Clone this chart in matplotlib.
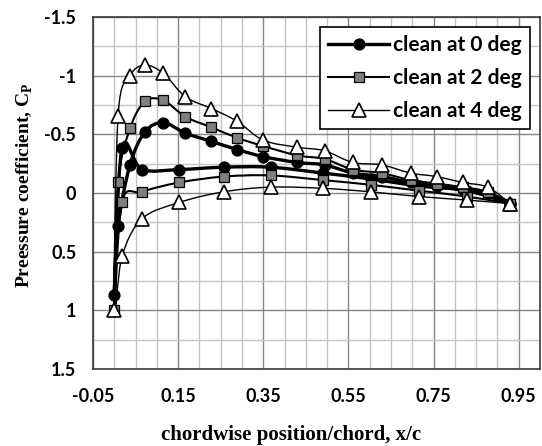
import numpy as np
import matplotlib
matplotlib.use("Agg")
import matplotlib.pyplot as plt
from matplotlib.path import Path
from matplotlib.patches import PathPatch
from matplotlib.lines import Line2D
from matplotlib.ticker import MultipleLocator

# tap positions (x/c), upper surface from leading edge to trailing edge
x_upper = [0.0, 0.009, 0.037, 0.072, 0.115, 0.167, 0.228, 0.289, 0.35, 0.43,
           0.494, 0.56, 0.628, 0.696, 0.757, 0.818, 0.877, 0.93]
# lower surface taps (leading edge shared with upper)
x_lower = [0.018, 0.065, 0.153, 0.257, 0.367, 0.49, 0.602, 0.715, 0.828, 0.93]

cp0_upper = [0.87, 0.28, -0.24, -0.52, -0.60, -0.51, -0.44, -0.37, -0.31, -0.26,
             -0.24, -0.17, -0.14, -0.09, -0.06, -0.03, 0.0, 0.09]
cp0_lower = [-0.38, -0.20, -0.20, -0.22, -0.22, -0.17, -0.12, -0.06, -0.02, 0.09]

cp2_upper = [1.0, -0.09, -0.55, -0.78, -0.79, -0.65, -0.56, -0.47, -0.40, -0.32,
             -0.29, -0.20, -0.17, -0.11, -0.08, -0.05, -0.01, 0.09]
cp2_lower = [0.08, -0.01, -0.09, -0.14, -0.15, -0.11, -0.07, -0.02, 0.03, 0.09]

cp4_upper = [1.0, -0.66, -1.0, -1.09, -1.02, -0.82, -0.72, -0.61, -0.45, -0.39,
             -0.36, -0.26, -0.24, -0.17, -0.14, -0.09, -0.05, 0.09]
cp4_lower = [0.54, 0.22, 0.08, -0.01, -0.05, -0.04, -0.01, 0.03, 0.06, 0.09]

labels = ["clean at 0 deg", "clean at 2 deg", "clean at 4 deg"]


def smooth_path(xs, ys):
    # excel style smoothed line: bezier segments with catmull-rom handles
    p = np.column_stack([xs, ys])
    n = len(p)
    verts = [p[0]]
    codes = [Path.MOVETO]
    for i in range(n - 1):
        p0 = p[i - 1] if i > 0 else p[i]
        p3 = p[i + 2] if i + 2 < n else p[i + 1]
        c1 = p[i] + (p[i + 1] - p0) / 6
        c2 = p[i + 1] - (p3 - p[i]) / 6
        verts += [c1, c2, p[i + 1]]
        codes += [Path.CURVE4] * 3
    return Path(verts, codes)


fig = plt.figure(figsize=(5.42, 4.46), dpi=100)
ax = fig.add_axes([0.1716, 0.1726, 0.9963 - 0.1716, 0.9619 - 0.1726])

styles = [
    dict(marker="o", ms=7.8, mfc="black", mec="black", mew=1.0, lw=2.4),
    dict(marker="s", ms=7.0, mfc="#808080", mec="black", mew=0.9, lw=1.5),
    dict(marker="^", ms=10, mfc="white", mec="black", mew=1.2, lw=1.0),
]
series = [(cp0_upper, cp0_lower), (cp2_upper, cp2_lower), (cp4_upper, cp4_lower)]

handles = []
for k, ((up, lo), st) in enumerate(zip(series, styles)):
    xs = x_upper[::-1] + x_lower
    ys = up[::-1] + lo
    ax.add_patch(PathPatch(smooth_path(xs, ys), fill=False, edgecolor="black",
                           lw=st["lw"], zorder=3 + 2 * k))
    ax.plot(xs, ys, linestyle="none", marker=st["marker"], ms=st["ms"],
            mfc=st["mfc"], mec=st["mec"], mew=st["mew"], zorder=4 + 2 * k)
    handles.append(Line2D([], [], color="black", lw=st["lw"], marker=st["marker"],
                          ms=st["ms"], mfc=st["mfc"], mec=st["mec"], mew=st["mew"]))

ax.set_xlim(-0.05, 1.0)
ax.set_ylim(1.5, -1.5)
ax.xaxis.set_minor_locator(MultipleLocator(0.05, offset=-0.05))
ax.yaxis.set_minor_locator(MultipleLocator(0.25))
ax.set_xticks([-0.05, 0.15, 0.35, 0.55, 0.75, 0.95])
ax.set_xticklabels(["-0.05", "0.15", "0.35", "0.55", "0.75", "0.95"])
ax.set_yticks([-1.5, -1, -0.5, 0, 0.5, 1, 1.5])
ax.set_yticklabels(["-1.5", "-1", "-0.5", "0", "0.5", "1", "1.5"])

ax.grid(which="major", color="#868686", lw=1.0, zorder=0)
ax.grid(which="minor", color="#c4c4c4", lw=1.0, zorder=0)
ax.set_axisbelow(True)
ax.tick_params(which="both", length=0)
ax.tick_params(axis="x", pad=14)
ax.tick_params(axis="y", pad=12)
for lab in ax.get_xticklabels() + ax.get_yticklabels():
    lab.set_fontfamily("Lato")
    lab.set_fontweight("bold")
    lab.set_fontsize(13)
for s in ax.spines.values():
    s.set_color("#3a3a3a")
    s.set_linewidth(1.2)

ax.set_xlabel("chordwise position/chord, x/c", family="Liberation Serif",
              fontweight="bold", fontsize=15)
ax.xaxis.set_label_coords(0.443, -0.188)
ax.xaxis.label.set_va("center")
ax.set_ylabel("Preessure coefficient, C$_\\mathregular{P}$", family="Liberation Serif",
              fontweight="bold", fontsize=14)
ax.yaxis.set_label_coords(-0.152, 0.523)
ax.yaxis.label.set_va("center")

leg = ax.legend(handles, labels, loc="upper right", bbox_to_anchor=(0.978, 0.972),
                prop=dict(family="Lato", weight="bold", size=15), frameon=True,
                fancybox=False, edgecolor="black", framealpha=1, numpoints=1,
                handlelength=2.9, borderpad=0.4, labelspacing=0.62, handletextpad=0.2,
                borderaxespad=0)
leg.get_frame().set_linewidth(1.2)
leg.set_zorder(10)

fig.savefig("out.png", dpi=100)
